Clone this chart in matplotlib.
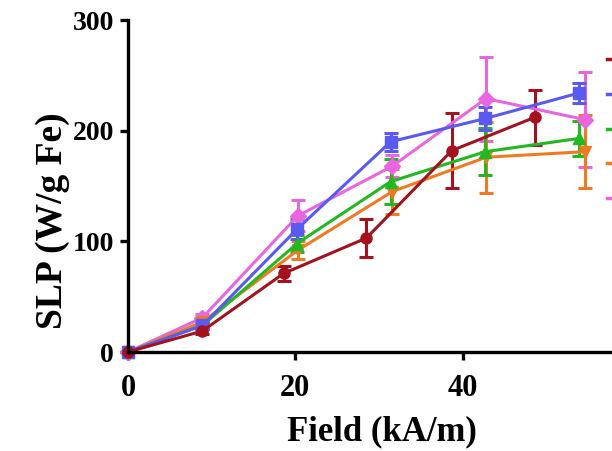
import matplotlib.pyplot as plt
from matplotlib.lines import Line2D

plt.rcParams['font.family'] = ['Liberation Serif', 'DejaVu Serif']
plt.rcParams['font.weight'] = 'bold'

# field values (kA/m)
field_red = [0, 8.9, 18.6, 28.5, 38.7, 48.6]
field_a = [0, 8.9, 20.2, 31.4, 42.7, 53.9]
field_b = [0, 8.9, 20.3, 31.6, 42.8, 54.6]

# SLP (W/g Fe) and error bars per series
slp_red = [0, 19, 71, 103, 182, 212]
err_red = [0, 3, 7, 17, 34, 25]
slp_blue = [0, 24, 111, 190, 211, 234]
err_blue = [0, 3, 9, 8, 10, 9]
slp_green = [0, 24, 98, 154, 181, 193]
err_green = [0, 3, 8, 20, 21, 16]
slp_orange = [0, 27, 92, 145, 176, 181]
err_orange = [0, 3, 8, 20, 32, 33]
slp_pink = [0, 31, 123, 168, 229, 210]
err_pink = [0, 3, 14, 10, 38, 43]

x_ticks = [0, 20, 40, 60]
x_tick_labels = ['0', '20', '40', '']  # 60 falls past the right edge
y_ticks = [0, 100, 200, 300]

series = [
    (field_red, slp_red, err_red, '#a3121e', 'o'),
    (field_a, slp_blue, err_blue, '#5a5af0', 's'),
    (field_a, slp_green, err_green, '#22b822', '^'),
    (field_b, slp_orange, err_orange, '#f07a22', 'v'),
    (field_b, slp_pink, err_pink, '#e866e0', 'D'),
]

fig = plt.figure(figsize=(6.12, 4.51), dpi=100)
ax = fig.add_axes([128 / 612, 1 - 352 / 451, (630 - 128) / 612, (352 - 20) / 451])

# pink first, dark red last (on top)
for x, y, e, c, m in series[::-1]:
    ax.errorbar(x, y, yerr=e, color=c, marker=m, markersize=8, lw=2.2,
                elinewidth=2.2, capsize=5, capthick=2.2, clip_on=False)

ax.set_xlim(0, 60)
ax.set_ylim(0, 300)
ax.set_xticks(x_ticks, x_tick_labels)
ax.set_yticks(y_ticks)
for s in ['top', 'right']:
    ax.spines[s].set_visible(False)
for s in ['left', 'bottom']:
    ax.spines[s].set_linewidth(2.4)
ax.tick_params(width=2.4, length=6)
ax.tick_params(axis='x', labelsize=22, pad=10)
ax.tick_params(axis='y', labelsize=20, pad=4)
ax.set_xlabel('Field (kA/m)', fontsize=25, fontweight='bold')
ax.set_ylabel('SLP (W/g Fe)', fontsize=27, fontweight='bold')
ax.xaxis.set_label_coords((382 - 128) / 502, -0.19)
ax.yaxis.set_label_coords((70 - 128) / 502, (352 - 221) / 332)

# legend sits mostly beyond the right edge; only the line stubs show
handles = [Line2D([], [], color=s[3], lw=2.5) for s in series]
fig.legend(handles, [''] * len(series), loc='upper left',
           bbox_to_anchor=(589 / 612, 1 - 35 / 451), frameon=False,
           handlelength=1.2, fontsize=14, labelspacing=0.88)

fig.savefig('out.png', dpi=100)
